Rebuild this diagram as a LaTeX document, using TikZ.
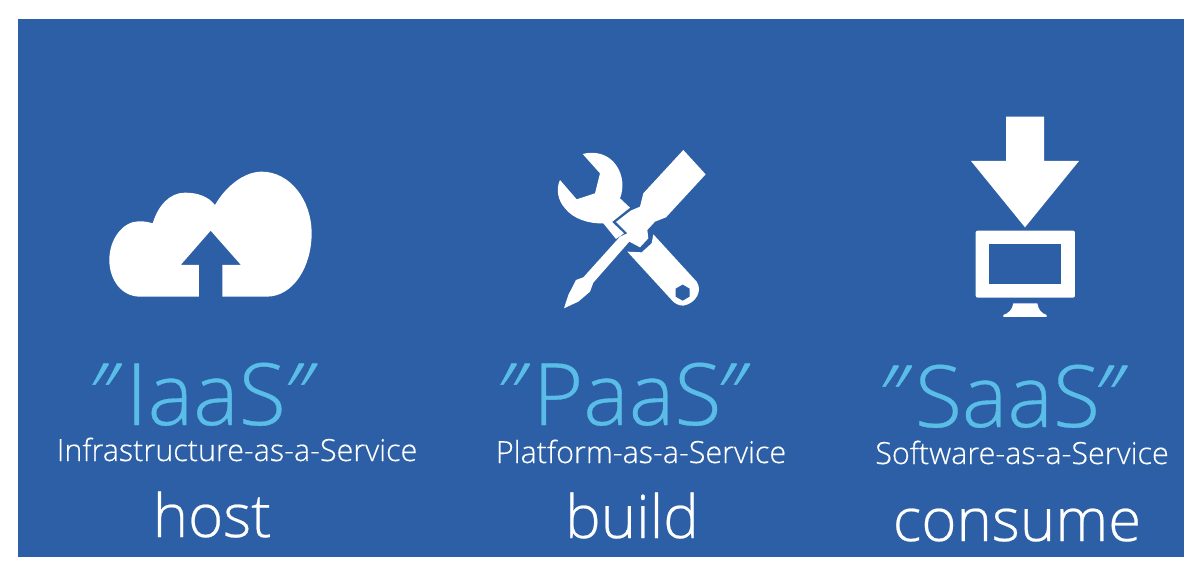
\documentclass[tikz,border=0pt]{standalone}
\usepackage{fontspec}
\setmainfont{Open Sans Light}[FakeBold=0.4]
\newcommand{\slq}{{\addfontfeature{FakeSlant=0.3}"}}
\definecolor{bgblue}{HTML}{2C5FA5}
\definecolor{skyb}{HTML}{5ABDE8}
\tikzset{
 big/.style={anchor=base west,text=skyb,font=\fontsize{86}{86}\selectfont,inner sep=0pt},
 sub/.style={anchor=base,text=white,font=\fontsize{30.5}{30}\selectfont,inner sep=0pt},
 verb/.style={anchor=base,text=white,font=\fontsize{60}{60}\selectfont,inner sep=0pt},
 ico/.style={fill=white,draw=none},
 hole/.style={fill=bgblue,draw=none},
 zoomA/.style={x=0.3333pt,y=-0.3333pt,shift={(90pt,-150pt)}},
 zoomB/.style={x=0.3333pt,y=-0.3333pt,shift={(540pt,-140pt)}},
 zoomC/.style={x=0.3333pt,y=-0.3333pt,shift={(950pt,-105pt)}}
}
\begin{document}
\begin{tikzpicture}[x=1pt,y=-1pt]
\useasboundingbox (0,0) rectangle (1202,580);
\fill[white] (0,0) rectangle (1202,580);
\fill[bgblue] (18,19) rectangle (1184,557);
% cloud
\begin{scope}[zoomA]
\fill[ico] (150,440) .. controls (95,440) and (58,390) .. (58,330)
 .. controls (58,265) and (100,215) .. (145,214)
 .. controls (160,213) and (175,216) .. (188,220)
 .. controls (205,165) and (240,128) .. (285,128)
 .. controls (325,128) and (355,140) .. (375,165)
 .. controls (410,105) and (465,65) .. (515,65)
 .. controls (600,65) and (665,150) .. (665,250)
 .. controls (665,350) and (610,440) .. (530,440)
 -- (397,440) -- (397,345) -- (453,345) -- (362,242) -- (272,345) -- (327,345) -- (327,440) -- cycle;
\end{scope}
% wrench and screwdriver
\begin{scope}[zoomB]
\fill[ico] (128,42) .. controls (165,32) and (205,42) .. (228,75)
 .. controls (250,105) and (252,145) .. (240,175)
 -- (270,203) -- (216,246) -- (252,280) -- (228,297) -- (190,250)
 .. controls (150,252) and (100,238) .. (75,205)
 .. controls (52,180) and (48,145) .. (60,120)
 -- (110,178) -- (165,160) -- (180,100) -- cycle;
\fill[ico] (430,30) -- (497,103) -- (378,232) -- (345,245) -- (322,270) -- (325,295) -- (300,322)
 -- (268,305) -- (160,428) -- (150,455) -- (115,485) -- (72,505) -- (85,465) -- (108,420) -- (130,412) -- (240,290)
 -- (262,280) -- (228,246) -- (272,212) -- (300,200) -- (310,160) -- cycle;
\fill[ico] (340,283) -- (470,425)
 .. controls (488,450) and (470,490) .. (430,497)
 .. controls (415,497) and (403,490) .. (395,480)
 -- (262,335) -- (305,337) -- (335,310) -- cycle;
\fill[hole] (428,434) -- (449,446) -- (449,470) -- (428,482) -- (407,470) -- (407,446) -- cycle;
\end{scope}
% download to monitor
\begin{scope}[zoomC]
\fill[ico] (168,35) -- (282,35) -- (282,168) -- (387,168) -- (225,367) -- (63,168) -- (168,168) -- cycle;
\fill[ico,rounded corners=2pt] (77,377) rectangle (375,578);
\fill[hole] (117,418) rectangle (332,538);
\fill[ico] (190,595) -- (262,595) .. controls (265,615) and (275,625) .. (290,630) -- (290,636) -- (160,636) -- (160,630) .. controls (175,625) and (187,615) .. (190,595) -- cycle;
\end{scope}
\node[big] (iaas) at (79,425) {\slq\kern21pt IaaS\kern-11pt\slq};
\node[big] (paas) at (487,425) {\slq\kern20pt PaaS\kern-14pt\slq};
\node[big] (saas) at (869,427) {\slq\kern20pt SaaS\kern-15pt\slq};
\node[sub] (isub) at (237,461) {Infrastructure-as-a-Service};
\node[sub] (psub) at (641,463) {Platform-as-a-Service};
\node[sub] (ssub) at (1022,464) {Software-as-a-Service};
\node[verb] (host) at (212,537) {host};
\node[verb] (build) at (632,538) {build};
\node[verb] (consume) at (1017,541) {consume};
\end{tikzpicture}
\end{document}
